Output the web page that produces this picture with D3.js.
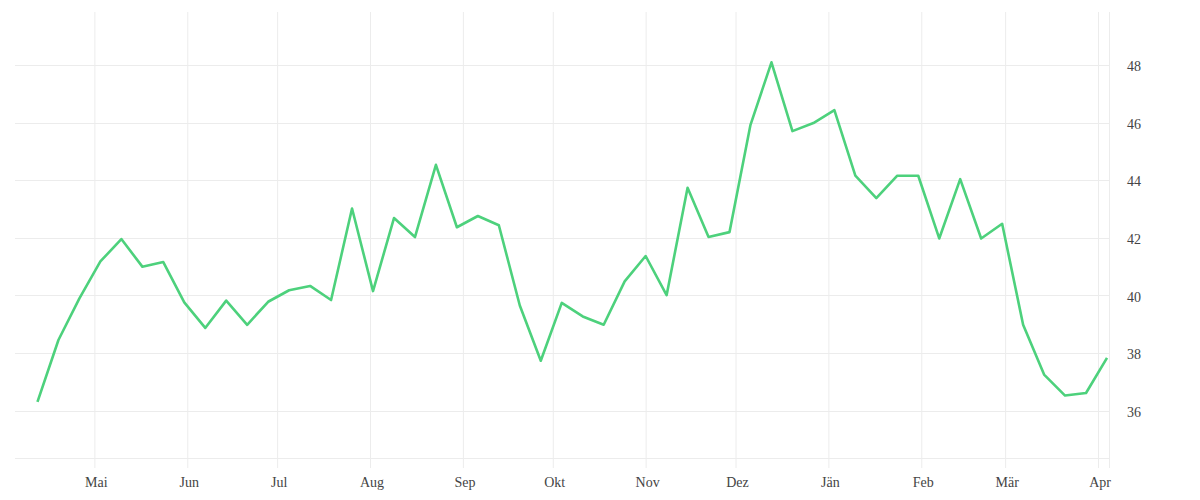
<!DOCTYPE html>
<html>
<head>
<meta charset="utf-8">
<script src="https://cdn.jsdelivr.net/npm/d3@7"></script>
<style>
  body { margin: 0; background: #fff; }
  .tick text { font-family: "Liberation Serif", "DejaVu Serif", serif; font-size: 14px; fill: #444; }
</style>
</head>
<body>
<svg id="chart" width="1200" height="500"></svg>
<script>
// weekly values, one per week starting Mon 12 Apr 2021
var weeks = ["2021-04-12","2021-04-19","2021-04-26","2021-05-03","2021-05-10","2021-05-17","2021-05-24","2021-05-31",
  "2021-06-07","2021-06-14","2021-06-21","2021-06-28","2021-07-05","2021-07-12","2021-07-19","2021-07-26",
  "2021-08-02","2021-08-09","2021-08-16","2021-08-23","2021-08-30","2021-09-06","2021-09-13","2021-09-20",
  "2021-09-27","2021-10-04","2021-10-11","2021-10-18","2021-10-25","2021-11-01","2021-11-08","2021-11-15",
  "2021-11-22","2021-11-29","2021-12-06","2021-12-13","2021-12-20","2021-12-27","2022-01-03","2022-01-10",
  "2022-01-17","2022-01-24","2022-01-31","2022-02-07","2022-02-14","2022-02-21","2022-02-28","2022-03-07",
  "2022-03-14","2022-03-21","2022-03-28","2022-04-04"];
var values = [36.3, 38.45, 39.9, 41.18, 41.96, 41.0, 41.16, 39.76,
  38.87, 39.82, 38.98, 39.78, 40.18, 40.33, 39.84, 43.02,
  40.15, 42.69, 42.03, 44.54, 42.37, 42.76, 42.44, 39.65,
  37.73, 39.74, 39.27, 38.98, 40.49, 41.37, 40.01, 43.74,
  42.03, 42.2, 45.93, 48.1, 45.71, 45.99, 46.44, 44.16,
  43.38, 44.16, 44.16, 41.98, 44.04, 41.98, 42.49, 38.98,
  37.25, 36.52, 36.61, 37.83];
var monthLabels = ["Mai","Jun","Jul","Aug","Sep","Okt","Nov","Dez","Jän","Feb","Mär","Apr"];
var monthTicks = ["2021-05-01","2021-06-01","2021-07-01","2021-08-01","2021-09-01","2021-10-01",
  "2021-11-01","2021-12-01","2022-01-01","2022-02-01","2022-03-01","2022-04-01"];
var yTicks = [36, 38, 40, 42, 44, 46, 48];

var parse = d3.timeParse("%Y-%m-%d");
var data = weeks.map(function(w, i) { return {date: parse(w), value: values[i]}; });

var svg = d3.select("#chart"),
    margin = {top: 12, right: 90, bottom: 42, left: 15},
    width = +svg.attr("width") - margin.left - margin.right,
    height = +svg.attr("height") - margin.top - margin.bottom;

var x = d3.scaleTime()
    .domain([new Date(2021, 3, 4, 12), new Date(2022, 3, 5)])
    .range([0, width]);
var y = d3.scaleLinear()
    .domain([34.35, 49.85])
    .range([height, 0]);

var g = svg.append("g")
    .attr("transform", "translate(" + margin.left + "," + margin.top + ")");

// horizontal grid
g.append("g")
    .selectAll("line")
    .data(yTicks)
    .enter().append("line")
    .attr("x1", 0).attr("x2", width)
    .attr("y1", function(d) { return Math.round(y(d)) + 0.5; })
    .attr("y2", function(d) { return Math.round(y(d)) + 0.5; })
    .attr("stroke", "#ececec");

// bottom border
g.append("line")
    .attr("x1", 0).attr("x2", width)
    .attr("y1", height + 0.5).attr("y2", height + 0.5)
    .attr("stroke", "#ececec");

// right border (runs into the tick area like the month lines)
g.append("line")
    .attr("x1", width - 0.5).attr("x2", width - 0.5)
    .attr("y1", 0).attr("y2", height + 10)
    .attr("stroke", "#ececec");

// x axis: month gridlines extend 10px below the plot
var xAxis = g.append("g")
    .attr("transform", "translate(0," + height + ")")
    .call(d3.axisBottom(x)
      .tickValues(monthTicks.map(parse))
      .tickSize(10)
      .tickPadding(9)
      .tickFormat(function(d, i) { return monthLabels[i]; }));
xAxis.select(".domain").remove();
xAxis.selectAll(".tick line")
    .attr("y1", -height)
    .attr("y2", 10)
    .attr("stroke", "#ececec");
xAxis.selectAll(".tick text").attr("dx", 1.5);

// y axis on the right
var yAxis = g.append("g")
    .attr("transform", "translate(" + width + ",0)")
    .call(d3.axisRight(y).tickValues(yTicks).tickSize(0).tickPadding(17));
yAxis.select(".domain").remove();
yAxis.selectAll(".tick text").attr("text-anchor", "start").attr("dy", "0.4em");

var line = d3.line()
    .x(function(d) { return x(d.date); })
    .y(function(d) { return y(d.value); });

g.append("path")
    .datum(data)
    .attr("fill", "none")
    .attr("stroke", "#4dd17c")
    .attr("stroke-width", 2.6)
    .attr("stroke-linejoin", "round")
    .attr("d", line);
</script>
</body>
</html>
